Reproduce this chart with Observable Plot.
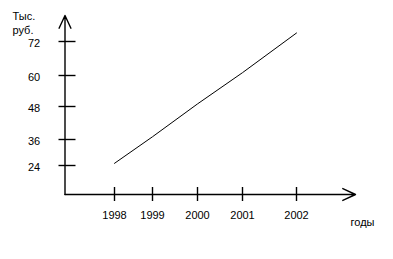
<!DOCTYPE html>
<html>
<head>
<meta charset="utf-8">
<script src="https://cdn.jsdelivr.net/npm/d3@7"></script>
<script src="https://cdn.jsdelivr.net/npm/@observablehq/plot@0.6"></script>
<style>
  html, body { margin: 0; padding: 0; background: #fff; }
  svg { display: block; }
</style>
</head>
<body>
<div id="chart"></div>
<script>
// Data
const years = [1998, 1999, 2000, 2001, 2002];
const values = [25, 37, 49, 61, 75];           // line, тыс. руб.
const yTicks = [24, 36, 48, 60, 72];            // y tick labels
const xTickLabels = ["1998", "1999", "2000", "2001", "2002"];
const yTitle = "Тыс.\nруб.";
const xTitle = "годы";

const series = years.map((year, i) => ({year, value: values[i]}));
const xTicks = years.map((year, i) => ({year, label: xTickLabels[i]}));

// hand-drawn (uneven) axis spacing reproduced with piecewise scales
const xDomain = [1997, ...years];
const xRange = [64.5, 114, 152, 197, 242, 296];
const yDomain = [0, ...yTicks];
const yRange = [194, 165, 139, 106, 75, 41];

const x0 = 1997, y0 = 0;
const xPx = (xRange[1] - xRange[0]) / (xDomain[1] - xDomain[0]);
const yPx = (yRange[0] - yRange[1]) / (yDomain[1] - yDomain[0]);
const xTip = 2002 + 59 / 54;
const yTip = 72 + 26 * 12 / 34;

const axes = [
  {x1: x0, y1: y0, x2: xTip, y2: y0},
  {x1: x0, y1: y0, x2: x0, y2: yTip}
];

const font = "Liberation Sans, Arial, sans-serif";

const chart = Plot.plot({
  width: 393,
  height: 259,
  margin: 0,
  style: {fontFamily: font, fontSize: "11px", background: "#fff", color: "#000"},
  x: {type: "linear", domain: xDomain, range: xRange, axis: null},
  y: {type: "linear", domain: yDomain, range: yRange, axis: null},
  marks: [
    Plot.arrow(axes, {x1: "x1", y1: "y1", x2: "x2", y2: "y2",
      stroke: "#000", strokeWidth: 1.4, headLength: 15, headAngle: 50}),
    Plot.ruleY(yTicks, {y: d => d, x1: x0 - 6 / xPx, x2: x0 + 11 / xPx,
      stroke: "#000", strokeWidth: 1.4}),
    Plot.ruleX(xTicks, {x: "year", y1: -7 / yPx, y2: 7 / yPx,
      stroke: "#000", strokeWidth: 1.4}),
    Plot.line(series, {x: "year", y: "value", stroke: "#000", strokeWidth: 1}),
    Plot.text(yTicks, {x: x0, y: d => d, text: d => String(d), dx: -31, dy: 2,
      textAnchor: "middle", fill: "#000", fontSize: 11}),
    Plot.text(xTicks, {x: "year", y: y0, text: "label", dy: 21,
      textAnchor: "middle", fill: "#000", fontSize: 11}),
    Plot.text([yTitle], {frameAnchor: "top-left", dx: 12, dy: 9,
      textAnchor: "start", lineAnchor: "top", lineHeight: 1.3, fill: "#000", fontSize: 11}),
    Plot.text([xTitle], {frameAnchor: "top-left", dx: 362, dy: 218,
      textAnchor: "middle", fill: "#000", fontSize: 11})
  ]
});
document.getElementById("chart").appendChild(chart);
</script>
</body>
</html>
